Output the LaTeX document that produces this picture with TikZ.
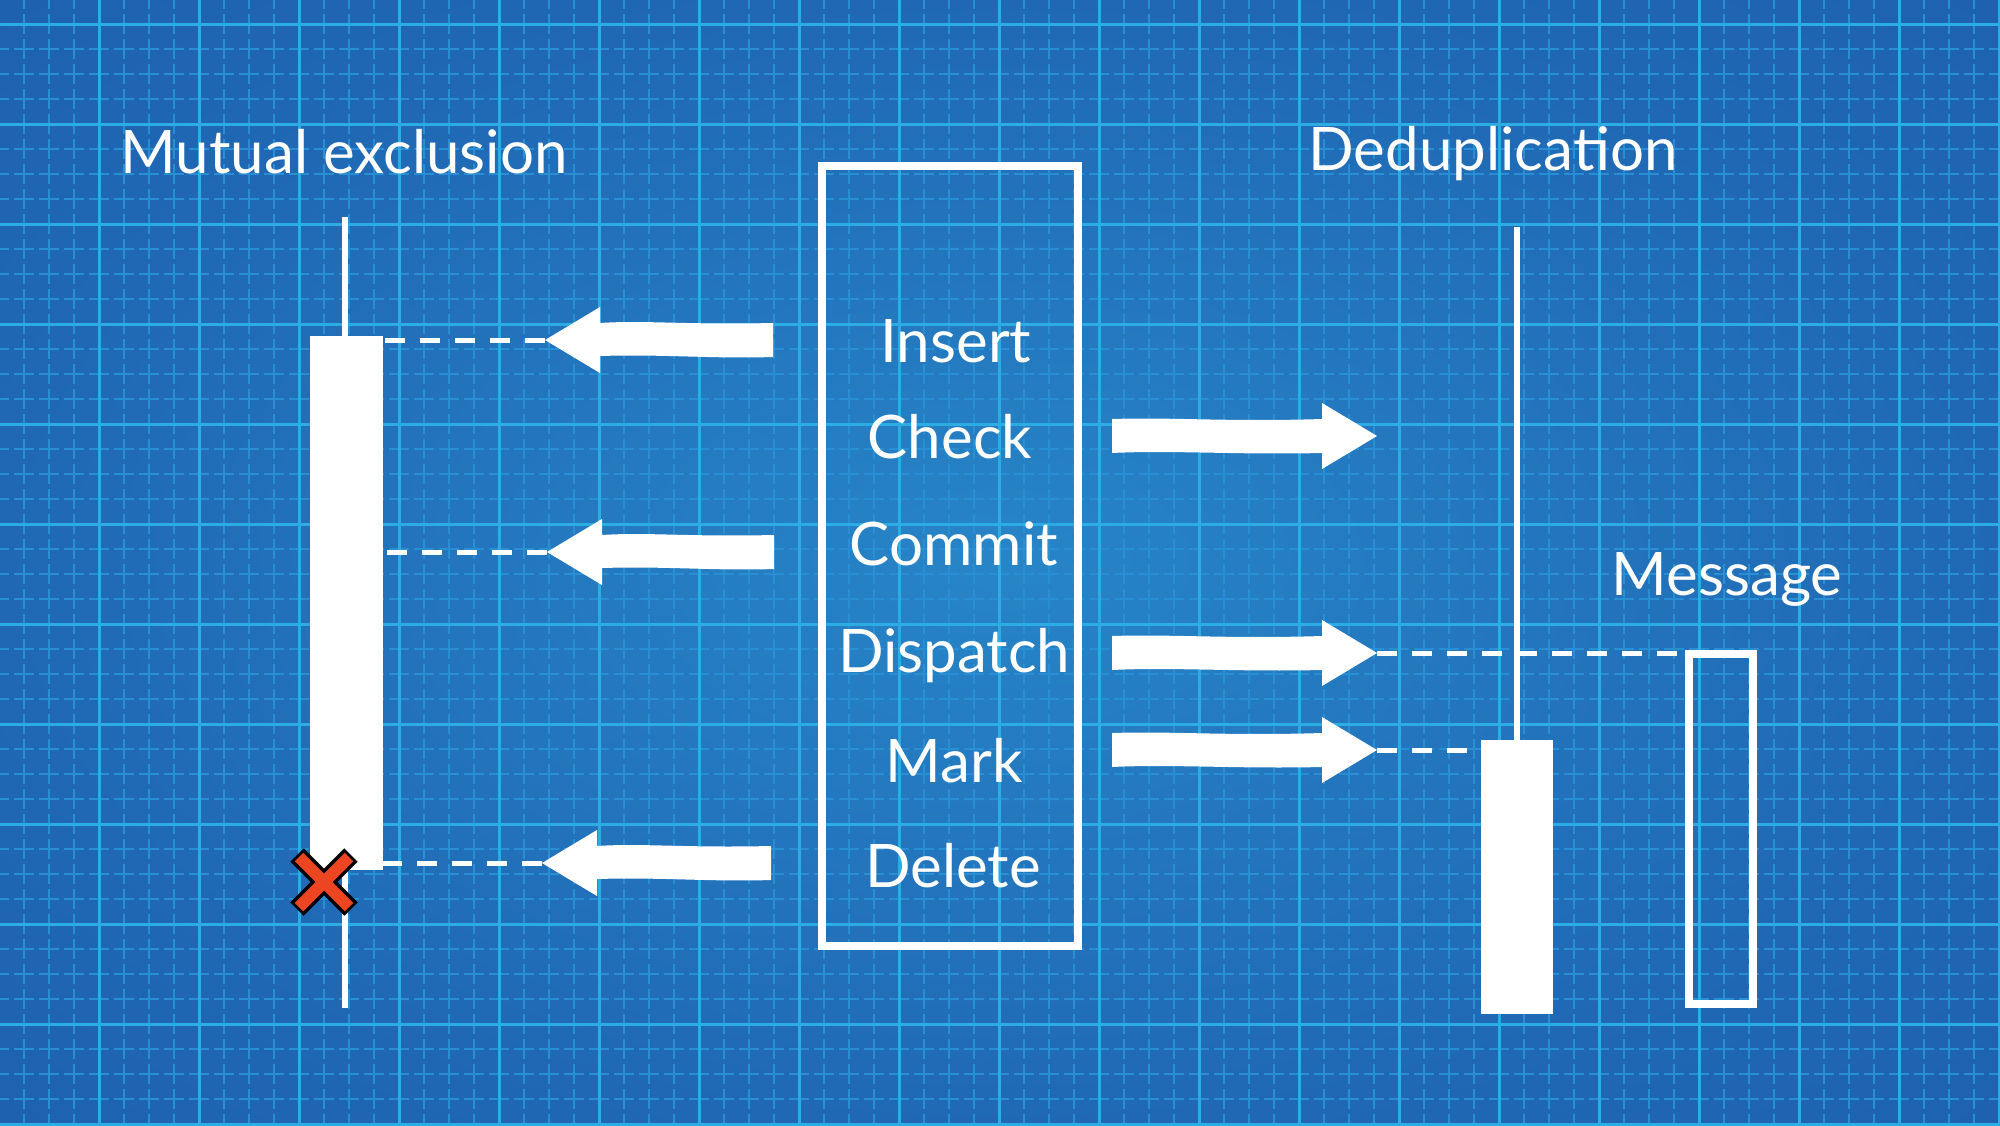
\documentclass[tikz,border=0pt]{standalone}
\usepackage{fontspec}
\setmainfont{Lato}
\usetikzlibrary{fit}
\definecolor{bgIn}{HTML}{2785C7}
\definecolor{bgMid}{HTML}{2068B4}
\definecolor{bgOut}{HTML}{1B59A8}
\definecolor{gridMajor}{HTML}{2BACE2}
\definecolor{gridMinor}{HTML}{288FD4}
\definecolor{xred}{HTML}{EB4521}
\pgfdeclareradialshading{bgshade}{\pgfpoint{0bp}{0bp}}{color(0bp)=(bgIn); color(25bp)=(bgMid); color(50bp)=(bgOut)}
\tikzset{
  lbl/.style={text=white, inner sep=0pt, anchor=base, font=\fontsize{30}{36}\selectfont},
  life/.style={draw=white, line width=2.6pt},
  barbox/.style={fill=white, draw=none, inner sep=0pt},
  openbox/.style={draw=white, line width=4pt, inner sep=0pt},
  dashconn/.style={draw=white, line width=2.5pt, dash pattern=on 10pt off 7.5pt},
  gridminor/.style={draw=gridMinor, line width=1pt, dash pattern=on 10pt off 2.5pt},
  gridmajor/.style={draw=gridMajor, line width=1.5pt},
  xout/.style={draw=black, line width=9.5pt},
  xin/.style={draw=xred, line width=6pt},
}
\newcommand{\fatleft}[4]{% name, tip x, y, tail x
  \fill[white] (#2,#3) -- (#2+55,#3-33) -- (#2+55,#3-17)
    .. controls (#2+100,#3-20) and (#2+140,#3-15) .. (#4,#3-17)
    -- (#4,#3+17) .. controls (#4-60,#3+19) and (#2+120,#3+14) .. (#2+55,#3+16)
    -- (#2+55,#3+33) -- cycle;
  \coordinate (#1) at (#2,#3);}
\newcommand{\fatright}[4]{% name, tail x, y, tip x
  \fill[white] (#2,#3-17) .. controls (#2+60,#3-19) and (#4-150,#3-14) .. (#4-55,#3-17)
    -- (#4-55,#3-33) -- (#4,#3) -- (#4-55,#3+33) -- (#4-55,#3+17)
    .. controls (#4-140,#3+19) and (#2+60,#3+14) .. (#2,#3+17) -- cycle;
  \coordinate (#1) at (#4,#3);}
\begin{document}
\begin{tikzpicture}[x=0.5pt, y=-0.5pt]
\useasboundingbox (0,0) rectangle (2000,1125);
\shade[shading=bgshade] (0,0) rectangle (2000,1125);
% grid
\begin{scope}
\clip (0,0) rectangle (2000,1125);
\foreach \x in {-1,24,...,1999} \draw[gridminor] (\x,-11) -- (\x,1140);
\foreach \y in {-1,24,...,1124} \draw[gridminor] (-11,\y) -- (2010,\y);
\foreach \x in {99,199,...,1999} \draw[gridmajor] (\x,0) -- (\x,1125);
\foreach \y in {24,124,...,1124} \draw[gridmajor] (0,\y) -- (2000,\y);
\end{scope}
% headings
\node[lbl] (hmutex) at (344,173) {Mutual exclusion};
\node[lbl] (hdedup) at (1493,170) {Deduplication};
\node[lbl] (hmsg) at (1727,595) {Message};
% operations box
\node[openbox, fit={(822,166)(1078,946)}] (opsbox) {};
\node[lbl] (tins) at (956,362) {Insert};
\node[lbl] (tchk) at (950,458) {Check};
\node[lbl] (tcom) at (954,565) {Commit};
\node[lbl] (tdis) at (954,672) {Dispatch};
\node[lbl] (tmrk) at (954,782) {Mark};
\node[lbl] (tdel) at (953,887) {Delete};
% fat arrows
\fatleft{arIns}{545}{340}{773}
\fatleft{arCom}{547}{552}{774}
\fatleft{arDel}{542}{863}{771}
\fatright{arChk}{1112}{436}{1377}
\fatright{arDis}{1112}{653}{1377}
\fatright{arMrk}{1112}{750}{1377}
% lifelines
\coordinate (mxtop) at (345,217);
\coordinate (mxbot) at (345,1008);
\draw[life] (mxtop) -- (mxbot);
\coordinate (ddtop) at (1517,227);
\coordinate (ddbot) at (1517,742);
\draw[life] (ddtop) -- (ddbot);
% bars
\node[barbox, fit={(310,336)(383,870)}] (mxbar) {};
\node[barbox, fit={(1481,740)(1553,1014)}] (ddbar) {};
\node[openbox, fit={(1689,654)(1753,1004)}] (msgbox) {};
% dashed connectors
\draw[dashconn] (arIns) -- (arIns -| mxbar.east);
\draw[dashconn] (arCom) -- (arCom -| mxbar.east);
\draw[dashconn] (arDel) -- (arDel -| mxbar.east);
\draw[dashconn] (arDis) -- (arDis -| msgbox.west);
\draw[dashconn] (arMrk) -- (arMrk -| ddbar.west);
% red cross
\coordinate (xmark) at (324,882);
\draw[xout] ([shift={(-27,-27)}]xmark) -- ([shift={(27,27)}]xmark);
\draw[xout] ([shift={(-27,27)}]xmark) -- ([shift={(27,-27)}]xmark);
\draw[xin] ([shift={(-25,-25)}]xmark) -- ([shift={(25,25)}]xmark);
\draw[xin] ([shift={(-25,25)}]xmark) -- ([shift={(25,-25)}]xmark);
\end{tikzpicture}
\end{document}
